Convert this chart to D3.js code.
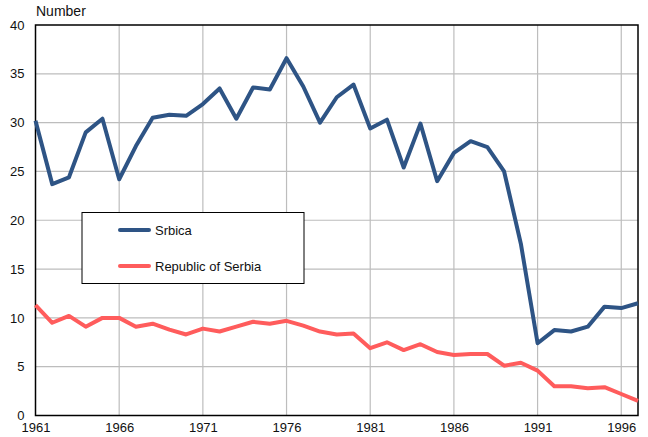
<!doctype html>
<html>
  <head>
    <meta charset="utf-8" />
    <title>Srbica vs Republic of Serbia</title>
    <script type="text/javascript" src="https://cdnjs.cloudflare.com/ajax/libs/d3/7.8.5/d3.min.js"></script>
    <style>
      body { margin:0; background:#fff; font-family:"Liberation Sans", Arial, sans-serif; }
      svg text { font-family:"Liberation Sans", Arial, sans-serif; fill:#111; }
    </style>
  </head>
  <body>
    <div id="chart"></div>
    <script type="text/javascript">

/*chart values*/
var years = d3.range(1961, 1998);
var srbica = [30.2, 23.7, 24.4, 29.0, 30.4, 24.2, 27.6, 30.5, 30.8, 30.7,
              31.9, 33.5, 30.4, 33.6, 33.4, 36.6, 33.7, 30.0, 32.6, 33.9,
              29.4, 30.3, 25.4, 29.9, 24.0, 26.9, 28.1, 27.5, 25.0, 17.6,
              7.4, 8.75, 8.6, 9.1, 11.15, 11.0, 11.5];
var serbia = [11.3, 9.5, 10.2, 9.1, 10.0, 10.0, 9.1, 9.4, 8.8, 8.3,
              8.9, 8.6, 9.1, 9.6, 9.4, 9.7, 9.2, 8.6, 8.3, 8.4,
              6.9, 7.5, 6.7, 7.3, 6.5, 6.2, 6.3, 6.3, 5.1, 5.4,
              4.6, 3.0, 3.0, 2.8, 2.9, 2.2, 1.5];
var seriesNames = ["Srbica", "Republic of Serbia"];
var seriesColors = ["#2e5485", "#ff5c5c"];
var xTicks = [1961, 1966, 1971, 1976, 1981, 1986, 1991, 1996];
var yTicks = [0, 5, 10, 15, 20, 25, 30, 35, 40];

var width = 648, height = 437;
var m = {left:35.5, right:10, top:25, bottom:21.5};

var svg = d3.select("#chart").append("svg")
  .attr("width", width).attr("height", height);

var x = d3.scaleLinear().domain([1961, 1997]).range([m.left, width - m.right]);
var y = d3.scaleLinear().domain([0, 40]).range([height - m.bottom, m.top]);

/*gridlines*/
svg.append("g").selectAll("line.v").data(xTicks.slice(1)).enter().append("line")
  .attr("x1", function(d) { return x(d); }).attr("x2", function(d) { return x(d); })
  .attr("y1", y(0)).attr("y2", y(40))
  .attr("stroke", "#bdbdbd").attr("stroke-width", 1.2);
svg.append("g").selectAll("line.h").data(yTicks.slice(1, -1)).enter().append("line")
  .attr("x1", x(1961)).attr("x2", x(1997))
  .attr("y1", function(d) { return y(d); }).attr("y2", function(d) { return y(d); })
  .attr("stroke", "#bdbdbd").attr("stroke-width", 1.2);

/*frame*/
svg.append("rect")
  .attr("x", x(1961)).attr("y", y(40))
  .attr("width", x(1997) - x(1961)).attr("height", y(0) - y(40))
  .attr("fill", "none").attr("stroke", "#000").attr("stroke-width", 1.5);

/*axes*/
var yAxis = svg.append("g").attr("transform", "translate(" + m.left + ",0)")
  .call(d3.axisLeft(y).tickValues(yTicks).tickSize(0).tickPadding(11));
yAxis.select(".domain").remove();
yAxis.selectAll("text").style("font-size", "13px");

var xAxis = svg.append("g").attr("transform", "translate(0," + (height - m.bottom) + ")")
  .call(d3.axisBottom(x).tickValues(xTicks).tickFormat(d3.format("d")).tickSize(0).tickPadding(7));
xAxis.select(".domain").remove();
xAxis.selectAll("text").style("font-size", "13px");

svg.append("text").attr("x", 36).attr("y", 16)
  .style("font-size", "14px").text("Number");

/*lines*/
var line = d3.line()
  .x(function(d) { return x(d[0]); })
  .y(function(d) { return y(d[1]); });

[srbica, serbia].forEach(function(vals, i) {
  svg.append("path")
    .datum(years.map(function(yr, j) { return [yr, vals[j]]; }))
    .attr("d", line)
    .attr("fill", "none")
    .attr("stroke", seriesColors[i])
    .attr("stroke-width", 4)
    .attr("stroke-linejoin", "round");
});

/*legend*/
var legend = svg.append("g");
legend.append("rect")
  .attr("x", 82).attr("y", 212.5).attr("width", 222).attr("height", 71)
  .attr("fill", "#fff").attr("stroke", "#000").attr("stroke-width", 1);
seriesNames.forEach(function(name, i) {
  var ly = 230 + i * 36;
  legend.append("line")
    .attr("x1", 120).attr("x2", 149).attr("y1", ly).attr("y2", ly)
    .attr("stroke", seriesColors[i]).attr("stroke-width", 4).attr("stroke-linecap", "round");
  legend.append("text").attr("x", 155).attr("y", ly + 4.5)
    .style("font-size", "13px").text(name);
});

    </script>
  </body>
</html>
